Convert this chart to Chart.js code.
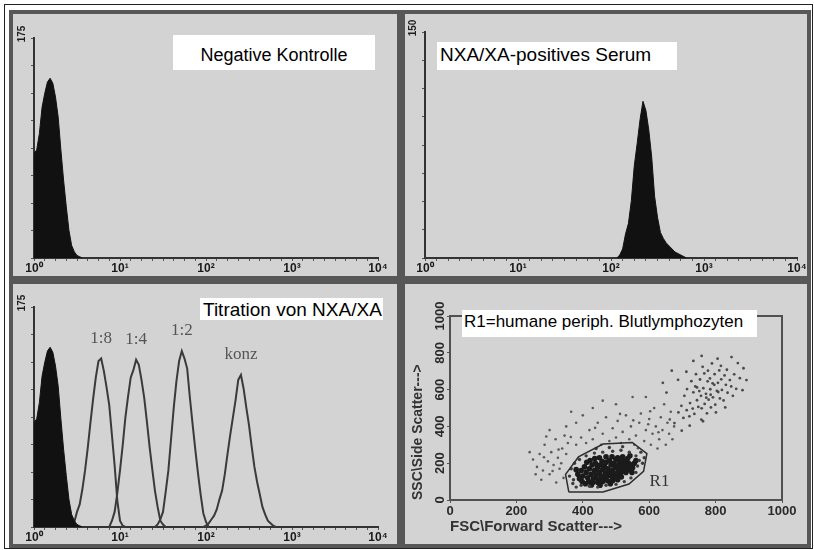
<!DOCTYPE html>
<html lang="de">
<head>
<meta charset="utf-8">
<title>Durchflusszytometrie NXA/XA</title>
<script src="https://cdn.jsdelivr.net/npm/chart.js@4.4.1/dist/chart.umd.min.js"></script>
<style>
  body { margin: 0; background: #fff; font-family: "Liberation Sans", Arial, sans-serif; }
  #rahmen { position: absolute; left: 4px; top: 4px; width: 809px; height: 545px; box-sizing: border-box; border: 1.5px solid #222; }
  .panel { position: absolute; box-sizing: border-box; border: 4px solid #575757; background: #d3d3d3; }
  .panel canvas { position: absolute; left: 0; top: 0; }
  .titel { position: absolute; background: #fff; color: #000; white-space: nowrap; z-index: 2; }
</style>
</head>
<body>
<div id="rahmen"></div>
<div class="panel" style="left:9px;top:10px;width:392px;height:270px"><canvas id="negChart" width="384" height="262"></canvas></div>
<div class="panel" style="left:401px;top:10px;width:410px;height:270px"><canvas id="posChart" width="402" height="262"></canvas></div>
<div class="panel" style="left:9px;top:280px;width:392px;height:268px"><canvas id="titChart" width="384" height="260"></canvas></div>
<div class="panel" style="left:401px;top:280px;width:410px;height:268px"><canvas id="scatChart" width="402" height="260"></canvas></div>

<div class="titel" style="left:173px;top:35px;width:202px;height:35px;line-height:40px;font-size:18px;text-align:center">Negative Kontrolle</div>
<div class="titel" style="left:437px;top:42px;width:237px;height:28px;line-height:26px;font-size:19px;padding-left:3px">NXA/XA-positives Serum</div>
<div class="titel" style="left:200px;top:298px;width:180px;height:22px;line-height:24px;font-size:19px;padding-left:3px">Titration von NXA/XA</div>
<div class="titel" style="left:462px;top:310px;width:293px;height:27px;line-height:24px;font-size:17px;padding-left:2px">R1=humane periph. Blutlymphozyten</div>

<script>
// Kanalraster: 1024 Kanaele ueber 4 Dekaden, Klassenbreite 8 Kanaele
const binWidth = 8
const decadeLabels = ['10⁰', '10¹', '10²', '10³', '10⁴']

// Negative Kontrolle
const negMax = 175
const negStart = 0
const negCounts = [83, 86, 99, 120, 131, 140, 143, 139, 128, 112, 86, 62, 41, 22, 10, 5, 2, 1, 0]

// NXA/XA-positives Serum
const posMax = 150
const posStart = 528
const posCounts = [0, 2, 6, 16, 23, 38, 61, 76, 92, 104, 98, 85, 67, 41, 27, 17, 13, 10, 8, 6, 4, 3, 2, 1, 0]

// Titration von NXA/XA
const titMax = 175
const titNames = ['1:8', '1:4', '1:2', 'konz']
const titStarts = [104, 224, 360, 496]
const counts1to8 = [0, 0, 4, 12, 18, 30, 45, 63, 83, 102, 119, 132, 134, 124, 111, 97, 73, 49, 21, 5, 1, 0]
const counts1to4 = [0, 5, 12, 27, 45, 65, 87, 104, 119, 125, 133, 129, 117, 103, 84, 64, 46, 29, 16, 5, 2, 0]
const counts1to2 = [0, 2, 6, 12, 28, 45, 70, 95, 116, 132, 140, 134, 126, 103, 82, 62, 43, 26, 11, 4, 0]
const countsKonz = [0, 0, 1, 3, 6, 9, 14, 22, 29, 42, 58, 73, 87, 101, 117, 121, 110, 95, 81, 64, 48, 36, 26, 16, 10, 5, 3, 1, 0]

// FSC/SSC Punktwolke [FSC, SSC]
const lymphCore = [[400,130],[410,150],[415,120],[420,170],[425,140],[428,190],[432,115],[435,160],[438,200],[440,135],
  [444,175],[447,110],[450,150],[452,190],[455,130],[458,210],[460,165],[462,120],[465,185],[468,145],
  [470,205],[472,128],[475,170],[478,155],[480,215],[482,135],[485,190],[488,160],[490,120],[492,200],
  [495,145],[498,175],[500,220],[502,132],[505,190],[508,160],[510,205],[512,140],[515,180],[518,215],
  [520,155],[522,195],[525,170],[528,210],[530,150],[534,185],[538,200],[540,165],[545,190],[395,160],
  [405,180],[418,100],[430,95],[445,95],[460,100],[475,105],[490,105],[505,110],[385,140],[390,115],
  [412,205],[422,215],[436,225],[450,230],[470,235],[488,235],[505,230],[550,175],[555,200],[535,225],[520,235],
  [398,100],[408,88],[426,82],[452,80],[483,88],[516,125],[548,150],[560,215],[542,240],[380,165]]
const lymphRing = [[370,90],[380,70],[395,80],[420,75],[445,70],[470,80],[500,85],[525,100],[545,120],[560,150],
  [565,185],[570,215],[560,240],[540,260],[515,270],[490,265],[460,260],[435,255],[410,240],[390,220],
  [375,200],[365,170],[360,130],[372,110],[580,200],[585,230],[575,260],[520,290],[480,285],[440,280]]
const otherCells = [[250,220],[262,180],[270,250],[280,160],[285,300],[295,210],[300,140],[305,260],[312,190],[318,330],
  [325,230],[330,170],[338,280],[342,120],[350,250],[355,310],[258,140],[275,110],[290,345],[320,95],
  [240,260],[335,200],[345,350],[300,380],[380,300],[395,340],[410,310],[420,380],[430,330],[445,420],
  [455,300],[460,360],[470,450],[480,320],[490,390],[500,340],[505,430],[515,310],[520,370],[530,460],
  [540,330],[545,400],[555,300],[560,350],[570,420],[575,470],[585,320],[590,380],[600,440],[605,300],
  [610,360],[615,500],[620,400],[625,280],[630,330],[635,450],[640,380],[645,520],[650,300],[655,420],
  [660,360],[665,480],[670,330],[675,400],[380,420],[400,460],[430,500],[460,540],[500,520],[550,560],
  [590,560],[350,400],[365,480],[283,232],[309,158],[327,274],[364,342],[437,392],[512,468],[566,281],
  [597,412],[628,368],[662,438],[603,482],[552,433]]
const granuloCells = [[676,418],[688,476],[697,512],[703,446],[706,566],[713,488],[714,603],[721,455],[723,527],[727,646],
  [731,497],[733,585],[736,468],[739,617],[744,542],[741,684],[748,506],[751,592],[753,655],[757,437],
  [756,566],[761,724],[763,608],[767,522],[766,688],[771,577],[774,471],[776,645],[779,545],[777,703],
  [784,602],[786,503],[783,661],[792,558],[789,742],[796,626],[799,518],[797,684],[804,593],[807,637],
  [806,768],[811,704],[813,552],[817,656],[819,598],[816,729],[824,541],[827,677],[831,626],[836,583],
  [834,708],[843,652],[847,617],[852,566],[856,683],[862,604],[867,744],[873,662],[881,597],[698,377],
  [722,404],[762,428],[801,476],[829,503],[687,653],[712,697],[733,756],[758,783],[848,777],[884,716],
  [893,652],[652,584],[641,637],[668,703],[744,612],[772,556],[791,634],[808,587],[758,498],[785,572]]

// Gate R1 (Polygon)
const gateFsc = [358, 348, 387, 461, 549, 593, 583, 539, 461]
const gateSsc = [43, 139, 234, 304, 313, 252, 156, 87, 43]
const gateLabelVertex = 6

// Kanalliste -> {x, y}
function toPoints(start, counts) {
  return counts.map((n, i) => ({ x: start + i * binWidth, y: n }))
}
function toXY(pairs) {
  return pairs.map(p => ({ x: p[0], y: p[1] }))
}

const tickFont = { family: 'Liberation Sans', size: 12, weight: 'bold' }

//Beschriftung der Titrationskurven ueber dem Maximum
const peakLabels = {
  id: 'peakLabels',
  afterDatasetsDraw(chart) {
    const ctx = chart.ctx
    const xs = chart.scales.x
    const ys = chart.scales.y
    ctx.save()
    ctx.font = '17px "Liberation Serif", serif'
    ctx.fillStyle = '#555'
    ctx.textAlign = 'center'
    ctx.textBaseline = 'middle'
    for (let ds of chart.data.datasets) {
      if (ds.fill !== false) continue
      let top = ds.data.reduce((a, b) => (b.y > a.y ? b : a))
      ctx.fillText(ds.label, xs.getPixelForValue(top.x), ys.getPixelForValue(top.y) - 20)
    }
    ctx.restore()
  }
}

function makeHistogram(canvasId, yMax, datasets, pad) {
  const chart = document.getElementById(canvasId)
  return new Chart(chart, {
    type: 'line',
    data: { datasets: datasets },
    options: {
      responsive: false,
      animation: false,
      layout: { padding: { left: 0, top: pad.top, right: pad.right, bottom: 0 } },
      elements: { point: { radius: 0 }, line: { tension: 0 } },
      plugins: { legend: { display: false }, tooltip: { enabled: false } },
      scales: {
        x: {
          type: 'linear',
          min: 0,
          max: 1024,
          afterFit: s => { s.height = pad.bottom; s.paddingLeft = 0; s.paddingRight = 0 },
          ticks: {
            stepSize: 32,
            autoSkip: false,
            maxRotation: 0,
            padding: 0,
            color: '#1a1a1a',
            font: tickFont,
            callback: v => (v % 256 === 0 ? decadeLabels[v / 256] : '')
          },
          grid: { drawOnChartArea: false, tickLength: 3, color: '#555' },
          border: { color: '#333', width: 2 }
        },
        y: {
          min: 0,
          max: yMax,
          afterFit: s => { s.width = pad.left },
          ticks: {
            count: 9,
            autoSkip: false,
            minRotation: 90,
            maxRotation: 90,
            crossAlign: 'center',
            padding: 0,
            labelOffset: -4,
            color: '#1e1e1e',
            font: { family: 'Liberation Sans', size: 10, weight: 'bold' },
            callback: (v, i, t) => (i === t.length - 1 ? String(yMax) : '')
          },
          grid: { drawOnChartArea: false, tickLength: 3, color: '#555' },
          border: { color: '#333', width: 2 }
        }
      }
    },
    plugins: [peakLabels]
  })
}

function filledPeak(start, counts) {
  return { label: 'Kontrolle', data: toPoints(start, counts), fill: 'origin', backgroundColor: '#111', borderColor: '#111', borderWidth: 1 }
}

makeHistogram('negChart', negMax, [filledPeak(negStart, negCounts)], { left: 21, right: 19, top: 24, bottom: 18 })
makeHistogram('posChart', posMax, [filledPeak(posStart, posCounts)], { left: 20, right: 10, top: 18, bottom: 18 })

let titSeries = [counts1to8, counts1to4, counts1to2, countsKonz]
let titDatasets = [filledPeak(negStart, negCounts)]
titSeries.forEach((counts, i) => {
  titDatasets.push({ label: titNames[i], data: toPoints(titStarts[i], counts), fill: false, borderColor: '#3a3a3a', borderWidth: 2 })
})
makeHistogram('titChart', titMax, titDatasets, { left: 21, right: 19, top: 23, bottom: 17 })

//Gate-Name neben dem Polygon
const gateLabel = {
  id: 'gateLabel',
  afterDatasetsDraw(chart) {
    const ctx = chart.ctx
    let px = chart.scales.x.getPixelForValue(gateFsc[gateLabelVertex])
    let py = chart.scales.y.getPixelForValue(gateSsc[gateLabelVertex])
    ctx.save()
    ctx.font = '17px "Liberation Serif", serif'
    ctx.fillStyle = '#333'
    ctx.textBaseline = 'middle'
    ctx.fillText('R1', px + 6, py + 10)
    ctx.restore()
  }
}

let gatePoints = gateFsc.map((f, i) => ({ x: f, y: gateSsc[i] }))
gatePoints.push(gatePoints[0])

const scatFont = { family: 'Liberation Sans', size: 13, weight: 'bold' }
new Chart(document.getElementById('scatChart'), {
  type: 'scatter',
  data: {
    datasets: [
      { label: 'R1', data: gatePoints, showLine: true, borderColor: '#2e2e2e', borderWidth: 1.5, pointRadius: 0, tension: 0 },
      { data: toXY(otherCells), pointRadius: 1.3, backgroundColor: '#5a5a5a', borderWidth: 0 },
      { data: toXY(granuloCells), pointRadius: 1.4, backgroundColor: '#4a4a4a', borderWidth: 0 },
      { data: toXY(lymphRing), pointRadius: 1.7, backgroundColor: '#3c3c3c', borderWidth: 0 },
      { data: toXY(lymphCore), pointRadius: 2.8, backgroundColor: '#1b1b1b', borderWidth: 0 }
    ]
  },
  options: {
    responsive: false,
    animation: false,
    layout: { padding: { left: 0, top: 24, right: 17, bottom: 0 } },
    plugins: { legend: { display: false }, tooltip: { enabled: false } },
    scales: {
      x: {
        min: 0,
        max: 1000,
        afterFit: s => { s.height = 44; s.paddingLeft = 0; s.paddingRight = 0 },
        ticks: { stepSize: 200, maxRotation: 0, padding: 1, color: '#2a2a2a', font: scatFont, callback: v => String(v) },
        title: { display: true, text: 'FSC\\Forward Scatter--->', align: 'start', color: '#333',
          font: { family: 'Liberation Sans', size: 15, weight: 'bold' }, padding: { top: 0, bottom: 8 } },
        grid: { drawOnChartArea: false, tickLength: 3, color: '#555' },
        border: { color: '#505050', width: 2 }
      },
      y: {
        min: 0,
        max: 1000,
        afterFit: s => { s.width = 45 },
        ticks: { stepSize: 200, minRotation: 90, maxRotation: 90, crossAlign: 'center', padding: -8, color: '#2a2a2a', font: scatFont, callback: v => String(v) },
        title: { display: true, text: 'SSC\\Side Scatter--->', align: 'start', color: '#333',
          font: { family: 'Liberation Sans', size: 14, weight: 'bold' }, padding: { top: 5, bottom: 0 } },
        grid: { drawOnChartArea: false, tickLength: 3, color: '#555' },
        border: { color: '#505050', width: 2 }
      },
      xTop: {
        axis: 'x', type: 'linear', position: 'top', min: 0, max: 1000,
        ticks: { display: false }, grid: { display: false },
        border: { color: '#505050', width: 2 }
      },
      yRight: {
        axis: 'y', type: 'linear', position: 'right', min: 0, max: 1000,
        ticks: { display: false }, grid: { display: false },
        border: { color: '#505050', width: 2 }
      }
    }
  },
  plugins: [gateLabel]
})
</script>
</body>
</html>
